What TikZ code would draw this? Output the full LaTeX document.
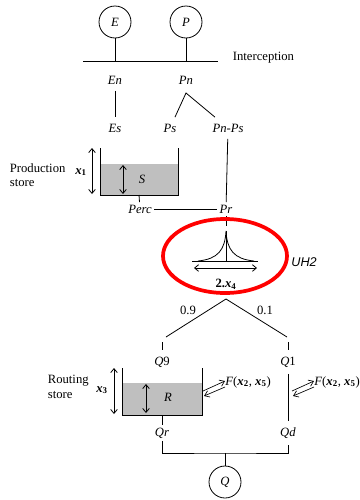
\documentclass[tikz,border=0pt]{standalone}
\usepackage{fontspec}
\setmainfont{Liberation Serif}
\setsansfont{Liberation Sans}
\usepackage{tikz}
\usetikzlibrary{arrows.meta}
\usetikzlibrary{positioning}

\newcommand{\xpar}[1]{\textbf{\textit{x}}\textsubscript{\textbf{#1}}}

\tikzset{
  src/.style={draw, circle, minimum size=24pt, inner sep=0pt},
  lab/.style={inner sep=1pt, outer sep=4pt},
  water/.style={fill=gray!50},
  level/.style={{Straight Barb[length=3pt,width=5pt]}-{Straight Barb[length=3pt,width=5pt]}},
  flux/.style={-{Straight Barb[length=3.5pt,width=5pt]}, line width=0.5pt}
}

\begin{document}
\begin{tikzpicture}[x=0.75pt, y=-0.75pt, line width=0.6pt, font=\fontsize{9.5}{11}\selectfont]
\useasboundingbox (0,0) rectangle (360,500);

% Inputs and interception
\node[src] (E) at (115,22) {\textit{E}};
\node[src] (P) at (186,22) {\textit{P}};
\coordinate (intL) at (83,61);
\coordinate (intR) at (218,61);
\draw (intL) -- (intR);
\draw (E) -- (E |- intL);
\draw (P) -- (P |- intL);
\node[anchor=west] (intlab) at (228,58) {Interception};

\node[lab] (En) at (115,80) {\textit{En}};
\node[lab] (Pn) at (186,80) {\textit{Pn}};
\node[lab] (Es) at (115,128) {\textit{Es}};
\node[lab] (Ps) at (170,128) {\textit{Ps}};
\node[lab] (PnPs) at (228,128) {\textit{Pn-Ps}};
\coordinate (pnfork) at (186,93);
\draw (En) -- (Es);
\draw (Ps) -- (pnfork) -- (PnPs);

% Production store
\fill[water] (100,164) rectangle (178,195);
\draw (100,148) -- (100,195) -- (178,195) -- (178,148);
\draw[level] (92,148) -- (92,194);
\draw[level] (123,165) -- (123,194);
\node (S) at (142,179) {\textit{S}};
\node (x1) at (81,172) {\xpar{1}};
\node[anchor=west, align=left] (prodlab) at (5,175) {Production\\store};

\coordinate (sout) at (139,195);
\node[lab, outer sep=1pt] (Perc) at (140,209) {\textit{Perc}};
\node[lab, outer sep=1pt] (Pr) at (226,209) {\textit{Pr}};
\draw (sout) -- (Perc);
\draw (Perc) -- (Pr);
\draw (PnPs) -- (Pr);

% Unit hydrograph
\coordinate (uhin) at (226,226);
\coordinate (uhpeak) at (226,231);
\coordinate (uhbase) at (226,261);
\draw (Pr) -- (uhin);
\draw (uhpeak) -- (uhbase);
\draw (192,261) -- (258,261);
\draw (198,261) .. controls (218,259) and (225,250) .. (uhpeak)
      .. controls (227,250) and (234,259) .. (254,261);
\draw[level] (194,268) -- (257,268);
\node (x4) at (226,284) {\textbf{2.\textit{x}\textsubscript{4}}};
\node[anchor=west, inner sep=0pt] (uhlab) at (291,262) {\sffamily\itshape UH2};
\draw[red, line width=2.8pt] (225,256) ellipse [x radius=62, y radius=37];

% Split 0.9 / 0.1
\coordinate (split) at (226,299);
\coordinate (q9end) at (166,337);
\coordinate (q1end) at (287,337);
\draw (q9end) -- (split) -- (q1end);
\node (w9) at (188,310) {0.9};
\node (w1) at (265,310) {0.1};
\coordinate (q9tick) at (162,342);
\coordinate (q1tick) at (288,342);
\node[lab] (Q9) at (162,362) {\textit{Q}9};
\node[lab] (Q1) at (288,362) {\textit{Q}1};
\draw (q9tick) -- (Q9);
\draw (q1tick) -- (Q1);

% Routing store
\fill[water] (122,383) rectangle (202,415);
\draw (122,368) -- (122,415) -- (202,415) -- (202,368);
\draw[level] (114,368) -- (114,414);
\draw[level] (146,384) -- (146,413);
\node (R) at (168,397) {\textit{R}};
\node (x3) at (102,390) {\xpar{3}};
\node[anchor=west, align=left] (routlab) at (43,387) {Routing\\store};

% Groundwater exchange
\foreach \x/\n in {203/Ftank, 292/Friver}
{
  \draw[flux] (\x,391) -- ++(22,-10);
  \draw[flux] (\x+22,387) -- ++(-21,9);
  \node[anchor=west, inner sep=0pt] (\n) at (\x+22,382) {\textit{F}(\xpar{2}, \xpar{5})};
}

\coordinate (rout) at (162,415);
\node[lab, outer sep=1pt] (Qr) at (162,433) {\textit{Qr}};
\node[lab] (Qd) at (288,433) {\textit{Qd}};
\draw (rout) -- (Qr);
\draw (Q1) -- (Qd);

% Total flow
\coordinate (qjoin) at (225,453);
\node[src] (Q) at (225,482) {\textit{Q}};
\draw (Qr) |- (qjoin) -| (Qd);
\draw (qjoin) -- (Q);

\end{tikzpicture}
\end{document}
